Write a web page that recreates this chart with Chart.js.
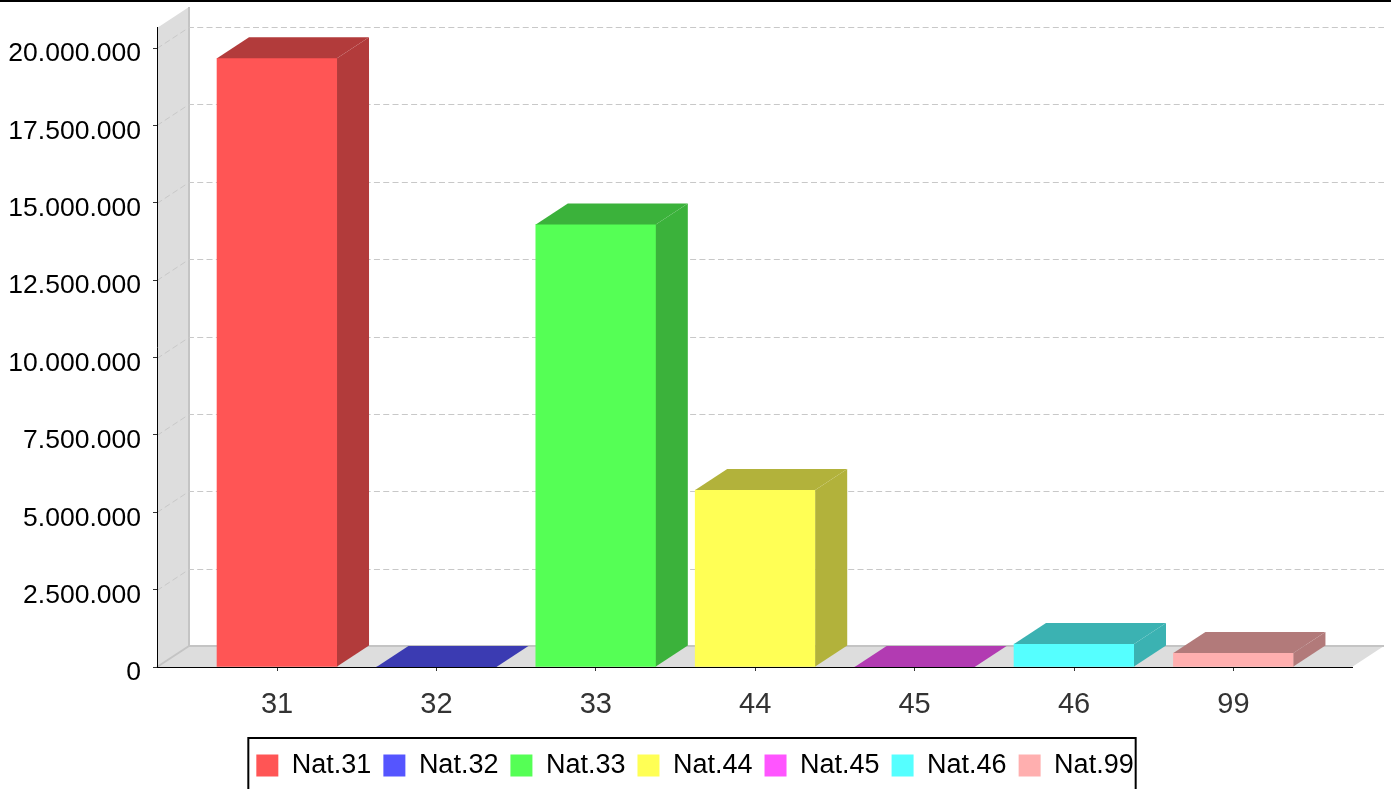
<!DOCTYPE html>
<html>
<head>
<meta charset="utf-8">
<script src="https://cdn.jsdelivr.net/npm/chart.js@4/dist/chart.umd.min.js"></script>
<style>
  html, body { margin: 0; padding: 0; background: #ffffff; }
  #wrap { width: 1391px; height: 789px; position: relative; overflow: hidden; }
  canvas { display: block; }
</style>
</head>
<body>
<div id="wrap"><canvas id="c" width="1391" height="789"></canvas></div>
<script>
// ---- data ----
const categories = ['31', '32', '33', '44', '45', '46', '99'];
const seriesNames = ['Nat.31', 'Nat.32', 'Nat.33', 'Nat.44', 'Nat.45', 'Nat.46', 'Nat.99'];
const seriesValues = [19670000, 0, 14300000, 5720000, 0, 740000, 450000];
const seriesColors = ['#ff5555', '#5555ff', '#55ff55', '#ffff55', '#ff55ff', '#55ffff', '#ffafaf'];
const yTickValues = [0, 2500000, 5000000, 7500000, 10000000, 12500000, 15000000, 17500000, 20000000];
const yMax = 20650000;

// ---- helpers ----
const FONT = "'Liberation Sans', Arial, Helvetica, sans-serif";
const DX = 32, DY = 21;
function darker(hex) {
  const n = parseInt(hex.slice(1), 16);
  const r = Math.floor(((n >> 16) & 255) * 0.7);
  const g = Math.floor(((n >> 8) & 255) * 0.7);
  const b = Math.floor((n & 255) * 0.7);
  return 'rgb(' + r + ',' + g + ',' + b + ')';
}
function fmt(v) {
  return String(Math.round(v)).replace(/\B(?=(\d{3})+(?!\d))/g, '.');
}
function poly(ctx, pts) {
  ctx.beginPath();
  ctx.moveTo(pts[0][0], pts[0][1]);
  for (let i = 1; i < pts.length; i++) ctx.lineTo(pts[i][0], pts[i][1]);
  ctx.closePath();
}

const datasets = seriesNames.map((name, i) => ({
  label: name,
  data: [{ x: i, y: seriesValues[i] }],
  backgroundColor: seriesColors[i],
  borderWidth: 0,
  grouped: false,
  barThickness: 120
}));

const threeD = {
  id: 'threeD',
  afterLayout(chart) {
    const lg = chart.legend;
    if (lg) { lg.left += 19; lg.right += 19; }
  },
  beforeDraw(chart) {
    const { ctx, chartArea: a, scales: { y } } = chart;
    const base = y.getPixelForValue(0);
    const top = a.top;
    ctx.save();
    ctx.fillStyle = '#dddddd';
    poly(ctx, [[a.left, base], [a.left, top], [a.left + DX, top - DY], [a.left + DX, base - DY]]);
    ctx.fill();
    poly(ctx, [[a.left, base], [a.right, base], [a.right + DX, base - DY], [a.left + DX, base - DY]]);
    ctx.fill();
    ctx.strokeStyle = '#c4c4c4';
    ctx.lineWidth = 2;
    ctx.beginPath();
    ctx.moveTo(a.left + DX, top - DY);
    ctx.lineTo(a.left + DX, base - DY);
    ctx.lineTo(a.right + DX, base - DY);
    ctx.moveTo(a.left, base);
    ctx.lineTo(a.left + DX, base - DY);
    ctx.stroke();
    ctx.setLineDash([6, 3.3]);
    ctx.lineWidth = 1;
    ctx.strokeStyle = '#c8c8c8';
    y.ticks.forEach(t => {
      if (t.value === 0) return;
      const py = Math.round(y.getPixelForValue(t.value)) + 0.5;
      ctx.beginPath();
      ctx.moveTo(a.left, py);
      ctx.lineTo(a.left + DX, py - DY);
      ctx.lineTo(a.right + DX, py - DY);
      ctx.stroke();
    });
    ctx.restore();
  },
  afterDatasetsDraw(chart) {
    const { ctx } = chart;
    ctx.save();
    chart.data.datasets.forEach((ds, di) => {
      const meta = chart.getDatasetMeta(di);
      if (meta.hidden) return;
      const col = darker(seriesColors[di]);
      meta.data.forEach(bar => {
        const p = bar.getProps(['x', 'y', 'base', 'width'], true);
        const x0 = p.x - p.width / 2, x1 = p.x + p.width / 2;
        const ty = p.y, by = p.base;
        ctx.fillStyle = col;
        poly(ctx, [[x0, ty], [x1, ty], [x1 + DX, ty - DY], [x0 + DX, ty - DY]]);
        ctx.fill();
        poly(ctx, [[x1, ty], [x1 + DX, ty - DY], [x1 + DX, by - DY], [x1, by]]);
        ctx.fill();
      });
    });
    ctx.restore();
  },
  afterDraw(chart) {
    const { ctx, legend } = chart;
    ctx.save();
    ctx.fillStyle = '#000';
    ctx.fillRect(0, 0, chart.width, 2);
    const hb = legend.legendHitBoxes;
    if (hb && hb.length) {
      const l = hb[0].left - 8;
      const last = hb[hb.length - 1];
      const r = last.left + last.width + 2;
      const t = hb[0].top - 14;
      ctx.strokeStyle = '#000';
      ctx.lineWidth = 2;
      ctx.strokeRect(l, t, r - l, chart.height + 10 - t);
    }
    ctx.restore();
  }
};

new Chart(document.getElementById('c'), {
  type: 'bar',
  data: { datasets },
  plugins: [threeD],
  options: {
    responsive: false,
    devicePixelRatio: 1,
    animation: false,
    layout: { padding: { left: 0, right: 39, top: 27, bottom: 0 } },
    plugins: {
      tooltip: { enabled: false },
      legend: {
        position: 'bottom',
        labels: {
          boxWidth: 22,
          boxHeight: 22,
          padding: 12,
          color: '#000',
          font: { family: FONT, size: 27 }
        }
      }
    },
    scales: {
      x: {
        type: 'linear',
        offset: false,
        min: -0.753,
        max: 6.744,
        afterBuildTicks: (s) => { s.ticks = categories.map((c, i) => ({ value: i })); },
        afterFit: (s) => { s.height = 73; },
        ticks: {
          autoSkip: false,
          maxRotation: 0,
          padding: 17,
          color: '#333',
          font: { family: FONT, size: 29 },
          callback: (v) => categories[v]
        },
        grid: { offset: false, drawOnChartArea: false, drawTicks: true, tickLength: 4, tickColor: '#333' },
        border: { display: true, color: '#000', width: 1 }
      },
      y: {
        min: 0,
        max: yMax,
        afterBuildTicks: (s) => { s.ticks = yTickValues.map(v => ({ value: v })); },
        afterFit: (s) => { s.width = 157; },
        ticks: {
          padding: 12,
          labelOffset: 6,
          color: '#000',
          font: { family: FONT, size: 26.5 },
          callback: (v) => fmt(v)
        },
        grid: { drawOnChartArea: false, drawTicks: true, tickLength: 4, tickColor: '#333' },
        border: { display: true, color: '#000', width: 1 }
      }
    }
  }
});
</script>
</body>
</html>
